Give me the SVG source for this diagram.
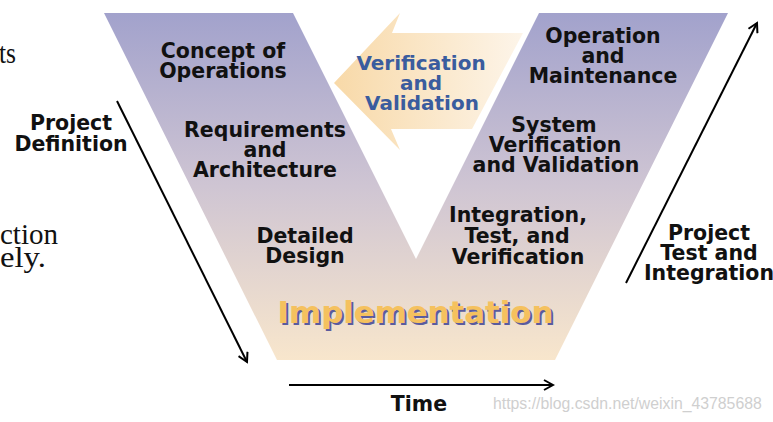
<svg xmlns="http://www.w3.org/2000/svg" width="773" height="422" viewBox="0 0 773 422">
<defs>
<linearGradient id="vgrad" x1="0" y1="13" x2="0" y2="360" gradientUnits="userSpaceOnUse">
<stop offset="0" stop-color="#a2a2cc"/>
<stop offset="0.5" stop-color="#cfc5d3"/>
<stop offset="1" stop-color="#f8e6cc"/>
</linearGradient>
<linearGradient id="agrad" x1="334" y1="0" x2="525" y2="0" gradientUnits="userSpaceOnUse">
<stop offset="0" stop-color="#f8d9a8"/>
<stop offset="1" stop-color="#fdf5ea"/>
</linearGradient>
<marker id="chev" viewBox="0 0 12 12" refX="10" refY="6" markerWidth="12" markerHeight="12" markerUnits="userSpaceOnUse" orient="auto">
<path d="M1,1 L10,6 L1,11" fill="none" stroke="#000" stroke-width="2"/>
</marker>
<style>
.lbl{font-family:"DejaVu Sans",Verdana,sans-serif;font-weight:bold;font-size:20.5px;fill:#111;text-anchor:middle}
.vv{font-family:"DejaVu Sans",Verdana,sans-serif;font-weight:bold;font-size:20px;fill:#3a5c9e;text-anchor:middle}
.imp{font-family:"DejaVu Sans",Verdana,sans-serif;font-weight:bold;font-size:30.8px;text-anchor:middle}
.bg{font-family:"Liberation Serif",serif;font-size:30px;fill:#111}
.conn{stroke:#000;stroke-width:2;fill:none;marker-end:url(#chev)}
</style>
</defs>
<rect width="773" height="422" fill="#fff"/>
<g id="background-text">
<text class="bg" x="-1" y="63" textLength="17" lengthAdjust="spacingAndGlyphs">ts</text>
<text class="bg" x="0" y="244" textLength="58" lengthAdjust="spacingAndGlyphs">ction</text>
<text class="bg" x="0" y="267" textLength="46" lengthAdjust="spacingAndGlyphs">ely.</text>
</g>
<g id="v-shape">
<path d="M104,13 L293,13 L416,259 L539,13 L728,13 L555,360 L277,360 Z" fill="url(#vgrad)"/>
</g>
<g id="vv-arrow">
<path d="M334,83 L400,13 L392,33 L523,33 L472,129 L391,129 L400,150 Z" fill="url(#agrad)"/>
<text class="vv" x="421" y="70">Verification</text>
<text class="vv" x="421" y="90">and</text>
<text class="vv" x="422" y="110">Validation</text>
</g>
<g id="concept">
<text class="lbl" x="223" y="58">Concept of</text>
<text class="lbl" x="223" y="78">Operations</text>
</g>
<g id="requirements">
<text class="lbl" x="265" y="137">Requirements</text>
<text class="lbl" x="265" y="157">and</text>
<text class="lbl" x="265" y="177">Architecture</text>
</g>
<g id="detailed">
<text class="lbl" x="305" y="243">Detailed</text>
<text class="lbl" x="305" y="263">Design</text>
</g>
<g id="implementation">
<text class="imp" x="417.5" y="325" fill="#5a5b9e">Implementation</text>
<text class="imp" x="415.5" y="323" fill="#f5c15e">Implementation</text>
</g>
<g id="integration">
<text class="lbl" x="518" y="222">Integration,</text>
<text class="lbl" x="517" y="243">Test, and</text>
<text class="lbl" x="518" y="264">Verification</text>
</g>
<g id="system">
<text class="lbl" x="554" y="132">System</text>
<text class="lbl" x="555" y="152">Verification</text>
<text class="lbl" x="556" y="172">and Validation</text>
</g>
<g id="operation">
<text class="lbl" x="603" y="43">Operation</text>
<text class="lbl" x="603" y="63">and</text>
<text class="lbl" x="603" y="83">Maintenance</text>
</g>
<g id="project-definition">
<text class="lbl" x="71" y="130">Project</text>
<text class="lbl" x="71" y="151">Definition</text>
</g>
<g id="project-test">
<text class="lbl" x="709" y="240">Project</text>
<text class="lbl" x="709" y="260">Test and</text>
<text class="lbl" x="709" y="280">Integration</text>
</g>
<g id="time">
<text class="lbl" x="419" y="411">Time</text>
</g>
<g id="connectors">
<line class="conn" x1="117" y1="101" x2="247" y2="362"/>
<line class="conn" x1="626" y1="283" x2="757" y2="23"/>
<line class="conn" x1="289" y1="385" x2="553" y2="385"/>
</g>
<g id="watermark">
<text x="493" y="409" font-family="Liberation Sans,Arial,sans-serif" font-size="15.8" fill="#cfcfcf">https://blog.csdn.net/weixin_43785688</text>
</g>
</svg>
